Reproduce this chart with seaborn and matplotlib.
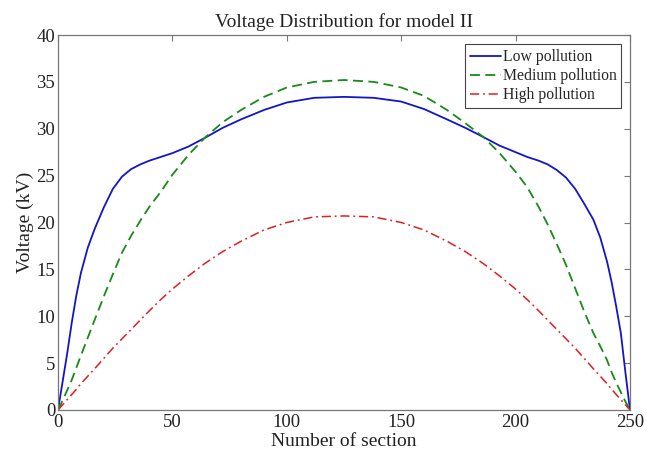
import numpy as np
import pandas as pd
import matplotlib
matplotlib.use("Agg")
import matplotlib.pyplot as plt
import seaborn as sns

# Section numbers (x)
sections = [0, 2, 4, 6, 8, 10, 13, 16, 20, 24, 28, 32, 36, 40, 45, 50, 57, 64, 72, 80, 90, 100, 112, 125,
            138, 150, 160, 170, 178, 186, 193, 200, 205, 210, 214, 218, 222, 226, 230, 234, 237, 240, 242,
            244, 246, 248, 250]

low_pollution = [0, 3.0, 6.0, 9.3, 12.2, 14.6, 17.3, 19.3, 21.6, 23.6, 24.9, 25.7, 26.2, 26.6, 27.0, 27.4,
                 28.1, 29.0, 30.1, 31.0, 32.0, 32.8, 33.3, 33.4,
                 33.3, 32.9, 32.1, 31.0, 30.1, 29.1, 28.2, 27.5, 27.0, 26.6, 26.2, 25.6, 24.8, 23.6, 22.0,
                 20.3, 18.4, 15.8, 13.6, 11.0, 8.2, 4.0, 0]

medium_pollution = [0, 1.0, 2.1, 3.2, 4.5, 5.8, 7.7, 9.6, 12.1, 14.5, 16.8, 18.6, 20.2, 21.7, 23.3, 25.1,
                    27.2, 29.0, 30.7, 32.0, 33.4, 34.4, 35.0, 35.2,
                    35.0, 34.4, 33.5, 32.0, 30.6, 29.1, 27.4, 25.4, 23.8, 21.7, 19.8, 17.7, 15.5, 13.0, 10.5,
                    8.2, 6.8, 5.3, 4.0, 2.9, 1.9, 0.9, 0]

high_pollution = [0, 0.55, 1.1, 1.65, 2.2, 2.8, 3.6, 4.4, 5.5, 6.6, 7.6, 8.6, 9.6, 10.6, 11.8, 12.9,
                  14.3, 15.6, 16.9, 18.0, 19.2, 20.0, 20.6, 20.7,
                  20.6, 20.0, 19.2, 18.0, 16.9, 15.6, 14.3, 12.9, 11.8, 10.6, 9.6, 8.6, 7.6, 6.6, 5.5,
                  4.4, 3.6, 2.8, 2.2, 1.65, 1.1, 0.55, 0]

series_names = ["Low pollution", "Medium pollution", "High pollution"]
x_ticks = [0, 50, 100, 150, 200, 250]
y_ticks = [0, 5, 10, 15, 20, 25, 30, 35, 40]

sns.set_style("white")
plt.rcParams['font.family'] = ['Liberation Serif', 'DejaVu Serif']

fig = plt.figure(figsize=(6.47, 4.58), dpi=100)
ax = fig.add_axes([58 / 647, 48 / 458, (630 - 58) / 647, (410 - 35) / 458])

df = pd.DataFrame({"x": sections, "Low": low_pollution, "Med": medium_pollution, "High": high_pollution})

sns.lineplot(data=df, x="x", y="Low", ax=ax, color="#1414c8", lw=1.3, label=series_names[0])
sns.lineplot(data=df, x="x", y="Med", ax=ax, color="#178a17", lw=1.3, label=series_names[1],
             linestyle=(0, (5.5, 3)))
sns.lineplot(data=df, x="x", y="High", ax=ax, color="#dc2020", lw=1.1, label=series_names[2],
             linestyle=(0, (6, 2.5, 1.2, 2.5)))

ax.set_xlim(0, 250)
ax.set_ylim(0, 40)
ax.set_xticks(x_ticks)
ax.set_yticks(y_ticks)
ax.tick_params(direction="in", length=4, width=0.8, color="#777777", top=True, right=True,
               labelsize=13.5, labelcolor="#222222")
ax.tick_params(axis="y", pad=2)
ax.tick_params(axis="x", pad=3)
for s in ax.spines.values():
    s.set_color("#777777")
    s.set_linewidth(0.9)
    s.set_visible(True)

ax.set_title("Voltage Distribution for model II", fontsize=14, color="#222222", pad=6)
ax.set_xlabel("Number of section", fontsize=14, color="#222222", labelpad=1)
ax.set_ylabel("Voltage (kV)", fontsize=14, color="#222222", labelpad=2)

leg = ax.legend(loc="upper right", bbox_to_anchor=(0.985, 0.975), fontsize=11.3, frameon=True,
                fancybox=False, edgecolor="#444444", framealpha=1, handlelength=2.0,
                handletextpad=0.1, labelspacing=0.2, borderpad=0.3, borderaxespad=0)
leg.get_frame().set_linewidth(0.8)

fig.savefig("out.png", dpi=100, facecolor="white")
